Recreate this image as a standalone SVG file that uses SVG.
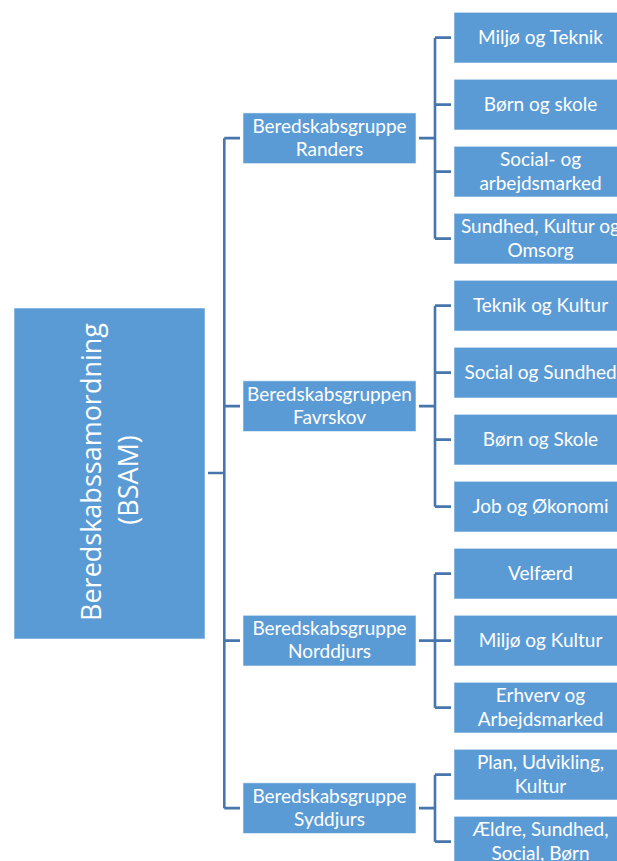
<svg xmlns="http://www.w3.org/2000/svg" width="617" height="861" viewBox="0 0 617 861">
<style>
.box{fill:#5B9BD5;stroke:#ffffff;stroke-opacity:0.55;stroke-width:1}
.t{font-family:Lato,"Open Sans","Liberation Sans",sans-serif;font-size:19px;fill:#ffffff;text-anchor:middle}
.big{font-family:"Open Sans","Liberation Sans",sans-serif;font-size:27px;fill:#ffffff;text-anchor:middle}
.ln{stroke:#4676AC;stroke-width:2.6;fill:none}
</style>
<rect width="617" height="861" fill="#ffffff"/>
<g id="connectors">
<path class="ln" d="M208,473 H224.3 M224.3,138.15 V808.15 M224.3,138.15 H240 M224.3,406.15 H240 M224.3,640.65 H240 M224.3,808.15 H240"/>
<path class="ln" d="M419,138.15 H435 M435,37.65 V238.65 M435,37.65 H451 M435,104.65 H451 M435,171.65 H451 M435,238.65 H451"/>
<path class="ln" d="M419,406.15 H435 M435,305.65 V506.65 M435,305.65 H451 M435,372.65 H451 M435,439.65 H451 M435,506.65 H451"/>
<path class="ln" d="M419,640.65 H435 M435,573.65 V707.65 M435,573.65 H451 M435,640.65 H451 M435,707.65 H451"/>
<path class="ln" d="M419,808.15 H435 M435,774.65 V841.65 M435,774.65 H451 M435,841.65 H451"/>
</g>
<g id="bsam">
<rect class="box" x="14" y="308" width="191" height="331"/>
<text class="big" transform="translate(101,472) rotate(-90)" x="0" y="0">Beredskabssamordning</text>
<text class="big" transform="translate(138,480) rotate(-90)" x="0" y="0">(BSAM)</text>
</g>
<g id="randers">
<rect class="box" x="243" y="112.9" width="173" height="50.7"/>
<text class="t" x="329.5" y="132.6">Beredskabsgruppe</text>
<text class="t" x="329.5" y="155.9">Randers</text>
</g>
<g id="favrskov">
<rect class="box" x="243" y="380.8" width="173" height="50.7"/>
<text class="t" x="329.5" y="400.6">Beredskabsgruppen</text>
<text class="t" x="329.5" y="423.9">Favrskov</text>
</g>
<g id="norddjurs">
<rect class="box" x="243" y="615.3" width="173" height="50.7"/>
<text class="t" x="329.5" y="635.1">Beredskabsgruppe</text>
<text class="t" x="329.5" y="658.4">Norddjurs</text>
</g>
<g id="syddjurs">
<rect class="box" x="243" y="782.8" width="173" height="50.7"/>
<text class="t" x="329.5" y="802.6">Beredskabsgruppe</text>
<text class="t" x="329.5" y="825.9">Syddjurs</text>
</g>
<g id="leaf0"><rect class="box" x="454" y="12.3" width="173" height="50.7"/><text class="t" x="540.5" y="44">Miljø og Teknik</text></g>
<g id="leaf1"><rect class="box" x="454" y="79.3" width="173" height="50.7"/><text class="t" x="540.5" y="111">Børn og skole</text></g>
<g id="leaf2"><rect class="box" x="454" y="146.3" width="173" height="50.7"/><text class="t" x="540.5" y="166.2">Social- og</text><text class="t" x="540.5" y="189.5">arbejdsmarked</text></g>
<g id="leaf3"><rect class="box" x="454" y="213.3" width="173" height="50.7"/><text class="t" x="540.5" y="233.2">Sundhed, Kultur og</text><text class="t" x="540.5" y="256.5">Omsorg</text></g>
<g id="leaf4"><rect class="box" x="454" y="280.3" width="173" height="50.7"/><text class="t" x="540.5" y="312">Teknik og Kultur</text></g>
<g id="leaf5"><rect class="box" x="454" y="347.3" width="173" height="50.7"/><text class="t" x="540.5" y="379">Social og Sundhed</text></g>
<g id="leaf6"><rect class="box" x="454" y="414.3" width="173" height="50.7"/><text class="t" x="540.5" y="446">Børn og Skole</text></g>
<g id="leaf7"><rect class="box" x="454" y="481.3" width="173" height="50.7"/><text class="t" x="540.5" y="513">Job og Økonomi</text></g>
<g id="leaf8"><rect class="box" x="454" y="548.3" width="173" height="50.7"/><text class="t" x="540.5" y="580">Velfærd</text></g>
<g id="leaf9"><rect class="box" x="454" y="615.3" width="173" height="50.7"/><text class="t" x="540.5" y="647">Miljø og Kultur</text></g>
<g id="leaf10"><rect class="box" x="454" y="682.3" width="173" height="50.7"/><text class="t" x="540.5" y="702.2">Erhverv og</text><text class="t" x="540.5" y="725.5">Arbejdsmarked</text></g>
<g id="leaf11"><rect class="box" x="454" y="749.3" width="173" height="50.7"/><text class="t" x="540.5" y="769.2">Plan, Udvikling,</text><text class="t" x="540.5" y="792.5">Kultur</text></g>
<g id="leaf12"><rect class="box" x="454" y="816.3" width="173" height="50.7"/><text class="t" x="540.5" y="836.2">Ældre, Sundhed,</text><text class="t" x="540.5" y="859.5">Social, Børn</text></g>
</svg>
